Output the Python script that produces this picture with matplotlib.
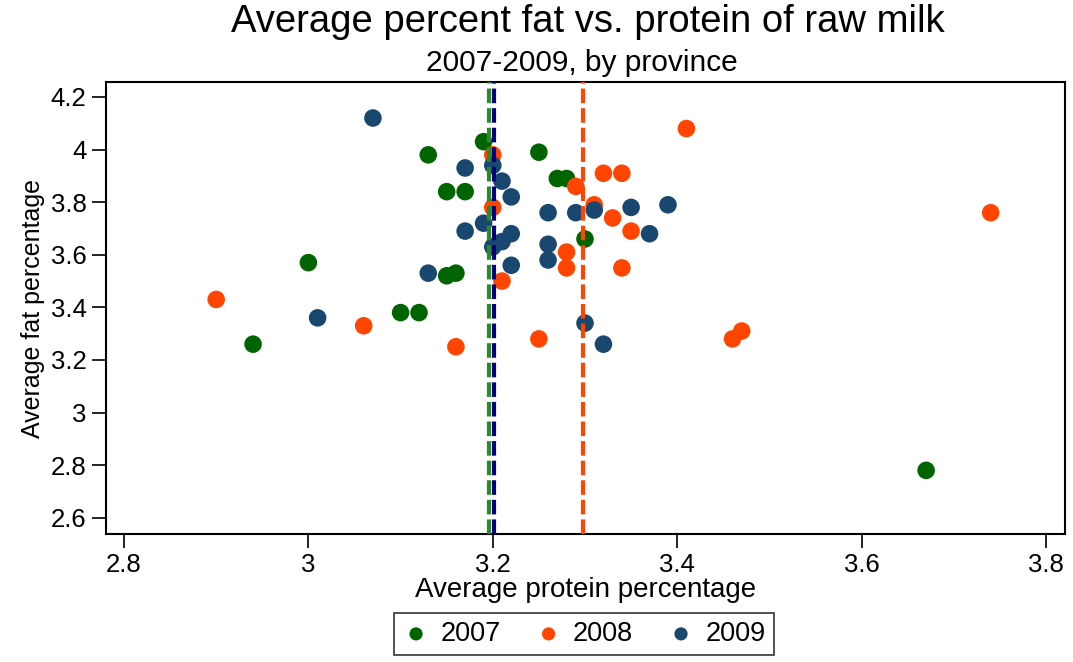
import matplotlib
matplotlib.use("Agg")
import matplotlib.pyplot as plt

plt.rcParams['font.family'] = ['Liberation Sans', 'DejaVu Sans']

# average protein / fat percentage by province, per year
protein_2007 = [2.94, 3.00, 3.10, 3.12, 3.13, 3.15, 3.17, 3.15, 3.16, 3.19, 3.25, 3.27, 3.28, 3.30, 3.67]
fat_2007 = [3.26, 3.57, 3.38, 3.38, 3.98, 3.84, 3.84, 3.52, 3.53, 4.03, 3.99, 3.89, 3.89, 3.66, 2.78]

protein_2008 = [2.90, 3.06, 3.16, 3.20, 3.20, 3.21, 3.25, 3.29, 3.28, 3.28, 3.31, 3.32, 3.33,
                3.34, 3.35, 3.34, 3.41, 3.46, 3.47, 3.74]
fat_2008 = [3.43, 3.33, 3.25, 3.98, 3.78, 3.50, 3.28, 3.86, 3.61, 3.55, 3.79, 3.91, 3.74,
            3.91, 3.69, 3.55, 4.08, 3.28, 3.31, 3.76]

protein_2009 = [3.07, 3.01, 3.13, 3.17, 3.17, 3.19, 3.20, 3.20, 3.21, 3.21, 3.22, 3.22, 3.22,
                3.26, 3.26, 3.26, 3.29, 3.31, 3.30, 3.32, 3.35, 3.37, 3.39]
fat_2009 = [4.12, 3.36, 3.53, 3.93, 3.69, 3.72, 3.94, 3.63, 3.88, 3.65, 3.82, 3.68, 3.56,
            3.76, 3.64, 3.58, 3.76, 3.77, 3.34, 3.26, 3.78, 3.68, 3.79]

# mean protein lines per year
mean_protein = {'2007': 3.196, '2008': 3.298, '2009': 3.201}

years = ['2007', '2008', '2009']
dot_colors = {'2007': '#006400', '2008': '#ff4500', '2009': '#1a476f'}
line_colors = {'2007': '#2a8a2a', '2008': '#ff4500', '2009': '#000080'}

xs = {'2007': protein_2007, '2008': protein_2008, '2009': protein_2009}
ys = {'2007': fat_2007, '2008': fat_2008, '2009': fat_2009}

fig = plt.figure(figsize=(10.73, 6.62), dpi=100)
ax = fig.add_axes([106/1073, 1 - 534/662, (1065-106)/1073, (534-82)/662])

for yr in years:
    ax.scatter(xs[yr], ys[yr], s=160, color=dot_colors[yr], edgecolors='none', label=yr, zorder=2)

for yr in ['2008', '2007', '2009']:
    ax.axvline(mean_protein[yr], color=line_colors[yr], lw=3, ls=(0, (3.5, 1.2)), zorder=3)

ax.set_xlim(2.7805, 3.8206)
ax.set_ylim(2.538, 4.257)
ax.set_xticks([2.8, 3, 3.2, 3.4, 3.6, 3.8])
ax.set_xticklabels(['2.8', '3', '3.2', '3.4', '3.6', '3.8'])
ax.set_yticks([2.6, 2.8, 3, 3.2, 3.4, 3.6, 3.8, 4, 4.2])
ax.set_yticklabels(['2.6', '2.8', '3', '3.2', '3.4', '3.6', '3.8', '4', '4.2'])
ax.tick_params(labelsize=18.5, length=10, width=1.2, pad=4)
for sp in ax.spines.values():
    sp.set_linewidth(1.5)

ax.set_xlabel('Average protein percentage', fontsize=20, labelpad=0)
ax.set_ylabel('Average fat percentage', fontsize=18, labelpad=4)

fig.text(588/1073, 1 - 22/662, 'Average percent fat vs. protein of raw milk', fontsize=27.5,
         ha='center', va='center')
fig.text(582/1073, 1 - 63/662, '2007-2009, by province', fontsize=21.5, ha='center', va='center')

leg = fig.legend(loc='center', bbox_to_anchor=(584/1073, 1 - 634/662), ncol=3, fontsize=19.5,
                 frameon=True, fancybox=False, edgecolor='black', markerscale=0.75,
                 handletextpad=0.4, columnspacing=1.27, borderpad=0.3, handlelength=1.0)
leg.get_frame().set_linewidth(1.2)

fig.savefig('out.png', dpi=100)
